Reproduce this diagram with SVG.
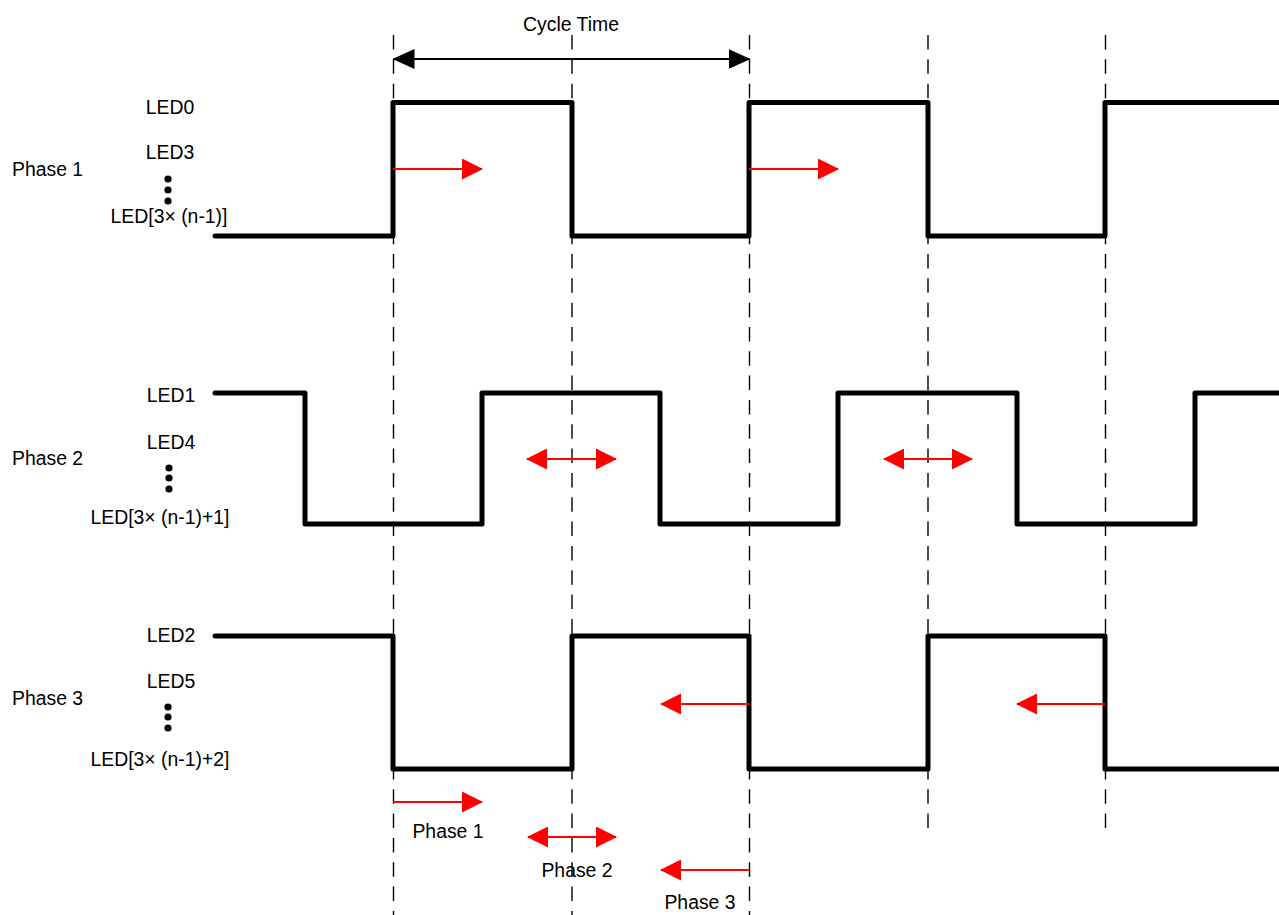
<svg xmlns="http://www.w3.org/2000/svg" width="1279" height="915" viewBox="0 0 1279 915">
<style>
text{font-family:"Liberation Sans",Arial,sans-serif;font-size:19.4px;fill:#000}
.mid{text-anchor:middle}
.wave{fill:none;stroke:#000;stroke-width:5;stroke-linejoin:round;stroke-linecap:round}
.grid{fill:none;stroke:#000;stroke-width:1.4;stroke-dasharray:14.5 9.83}
.red{fill:none;stroke:#f00;stroke-width:2.2}
.blk{fill:none;stroke:#000;stroke-width:2}
</style>
<defs>
<marker id="rh" markerUnits="userSpaceOnUse" viewBox="0 0 21 21" refX="20" refY="10.5" markerWidth="21" markerHeight="21" orient="auto-start-reverse"><path d="M0,0 L21,10.5 L0,21 z" fill="#f00"/></marker>
<marker id="bh" markerUnits="userSpaceOnUse" viewBox="0 0 22 20" refX="21" refY="10" markerWidth="22" markerHeight="20" orient="auto-start-reverse"><path d="M0,0 L22,10 L0,20 z" fill="#000"/></marker>
</defs>
<g id="gridlines">
<line class="grid" x1="393.5" y1="35" x2="393.5" y2="915"/>
<line class="grid" x1="572" y1="35" x2="572" y2="915"/>
<line class="grid" x1="749.5" y1="35" x2="749.5" y2="915"/>
<line class="grid" x1="928" y1="35" x2="928" y2="838"/>
<line class="grid" x1="1105.5" y1="35" x2="1105.5" y2="838"/>
</g>
<g id="cycle-time">
<line class="blk" x1="393.5" y1="59" x2="749.5" y2="59" marker-start="url(#bh)" marker-end="url(#bh)"/>
<text class="mid" x="571" y="30.5">Cycle Time</text>
</g>
<g id="phase1">
<text x="12" y="176">Phase 1</text>
<text class="mid" x="170" y="114">LED0</text>
<text class="mid" x="170" y="159">LED3</text>
<circle cx="168" cy="179" r="3.6"/><circle cx="168" cy="190" r="3.6"/><circle cx="168" cy="201" r="3.6"/>
<text class="mid" x="169" y="223">LED[3× (n-1)]</text>
<path class="wave" d="M215,236 H393 V102.5 H572 V236 H749 V102.5 H928 V236 H1105 V102.5 H1285"/>
</g>
<g id="phase2">
<text x="12" y="465">Phase 2</text>
<text class="mid" x="171" y="402">LED1</text>
<text class="mid" x="171" y="449">LED4</text>
<circle cx="169" cy="468" r="3.6"/><circle cx="169" cy="478" r="3.6"/><circle cx="169" cy="489" r="3.6"/>
<text class="mid" x="160" y="524">LED[3× (n-1)+1]</text>
<path class="wave" d="M215,393 H305 V524 H482 V393 H660 V524 H838 V393 H1017 V524 H1195 V393 H1285"/>
</g>
<g id="phase3">
<text x="12" y="705">Phase 3</text>
<text class="mid" x="171" y="642">LED2</text>
<text class="mid" x="171" y="688">LED5</text>
<circle cx="168" cy="707" r="3.6"/><circle cx="168" cy="717" r="3.6"/><circle cx="168" cy="728" r="3.6"/>
<text class="mid" x="160" y="766">LED[3× (n-1)+2]</text>
<path class="wave" d="M215,636 H393 V769 H572 V636 H749 V769 H928 V636 H1105 V769 H1285"/>
</g>
<g id="connectors">
<line class="red" x1="393" y1="169" x2="482" y2="169" marker-end="url(#rh)"/>
<line class="red" x1="749" y1="169" x2="838" y2="169" marker-end="url(#rh)"/>
<line class="red" x1="527" y1="459" x2="616" y2="459" marker-start="url(#rh)" marker-end="url(#rh)"/>
<line class="red" x1="884" y1="459" x2="972" y2="459" marker-start="url(#rh)" marker-end="url(#rh)"/>
<line class="red" x1="749" y1="704" x2="661" y2="704" marker-end="url(#rh)"/>
<line class="red" x1="1105" y1="704" x2="1017" y2="704" marker-end="url(#rh)"/>
</g>
<g id="legend">
<line class="red" x1="393" y1="802" x2="482" y2="802" marker-end="url(#rh)"/>
<text class="mid" x="448" y="838">Phase 1</text>
<line class="red" x1="528" y1="837" x2="616" y2="837" marker-start="url(#rh)" marker-end="url(#rh)"/>
<text class="mid" x="577" y="877">Phase 2</text>
<line class="red" x1="749" y1="870" x2="661" y2="870" marker-end="url(#rh)"/>
<text class="mid" x="700" y="909">Phase 3</text>
</g>
</svg>
